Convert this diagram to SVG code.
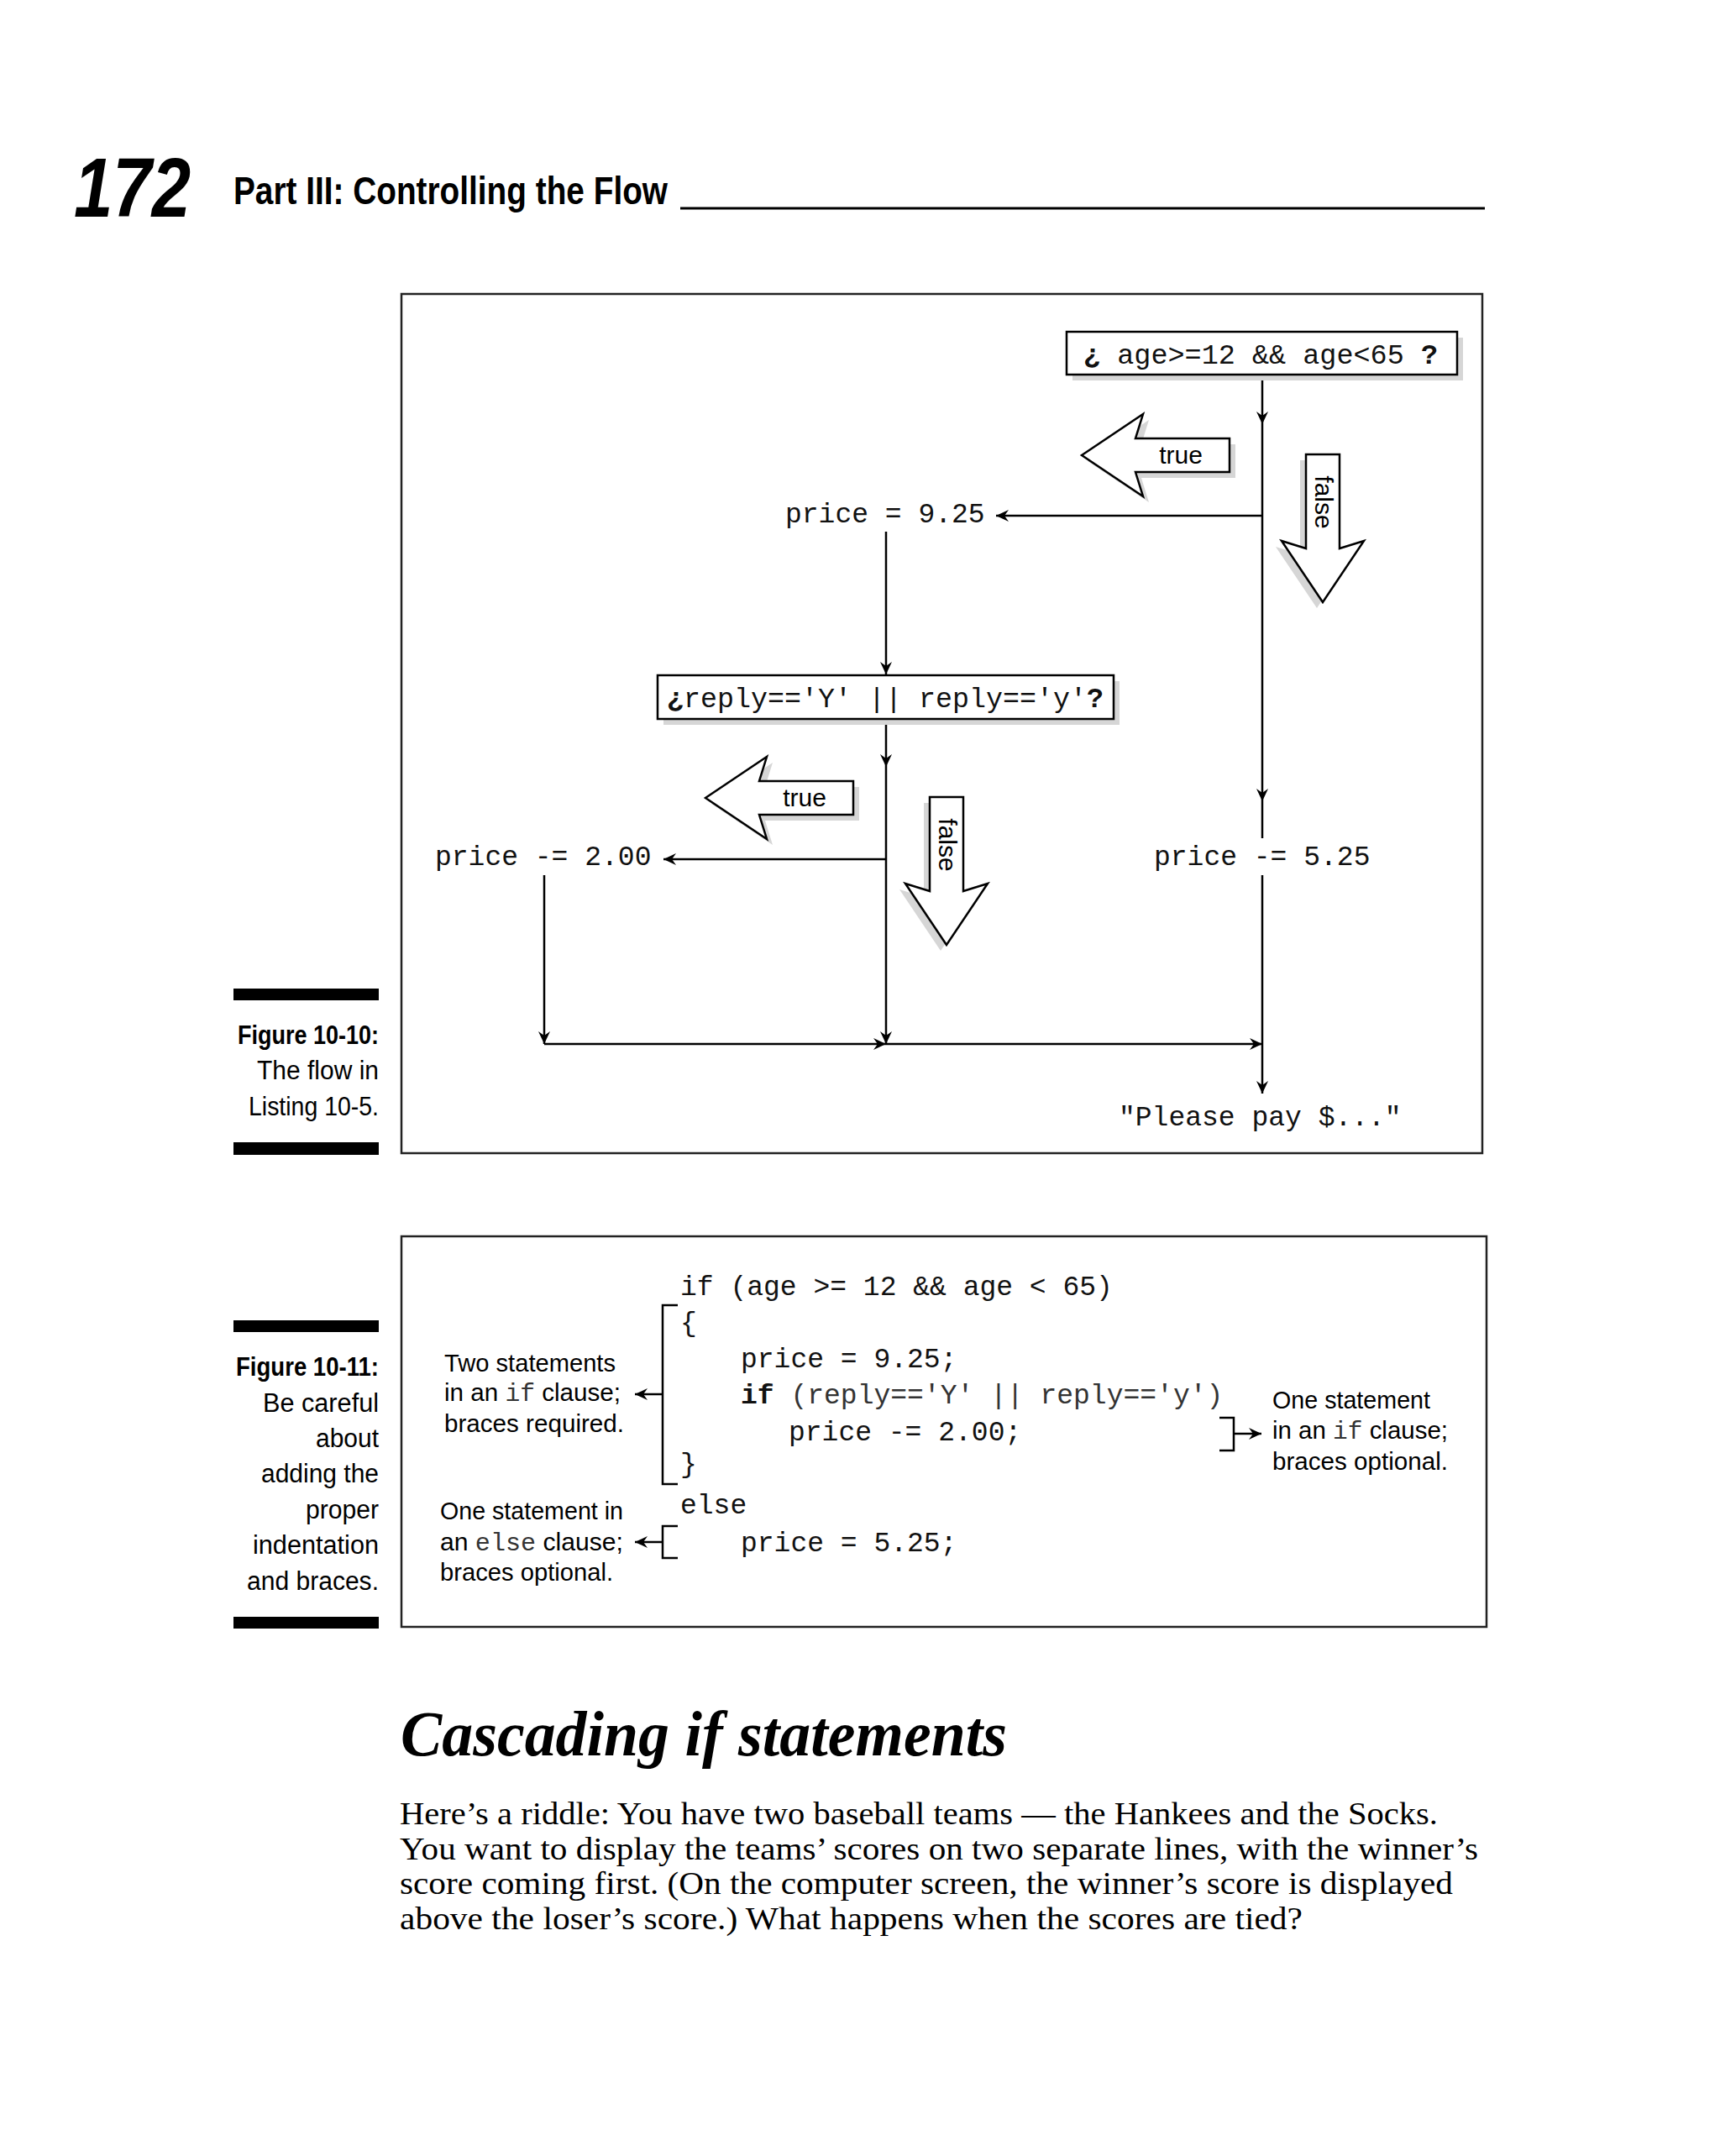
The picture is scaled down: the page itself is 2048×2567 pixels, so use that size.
<svg xmlns="http://www.w3.org/2000/svg" width="2048" height="2567" viewBox="0 0 2048 2567">
<style>
.mono{font-family:"Liberation Mono","DejaVu Sans Mono",monospace;font-size:33px;fill:#111}
.sans{font-family:"Liberation Sans",Arial,sans-serif;fill:#000}
.cap{font-family:"Liberation Sans",Arial,sans-serif;font-size:31px;fill:#000;text-anchor:end}
.ann{font-family:"Liberation Sans",Arial,sans-serif;font-size:30px;fill:#000}
.annm{font-family:"Liberation Mono","DejaVu Sans Mono",monospace;fill:#333}
.body{font-family:"Liberation Serif","Times New Roman",serif;font-size:37px;fill:#000}
.ln{stroke:#000;stroke-width:2.5;fill:none}
.arr{stroke:#000;stroke-width:2.5;fill:none;marker-end:url(#ah)}
.frame{fill:none;stroke:#222;stroke-width:2.5}
.box{fill:#fff;stroke:#000;stroke-width:2.5}
.shadow{fill:#d6d6d6}
.blk{fill:#fff;stroke:#000;stroke-width:2.5;stroke-linejoin:miter}
.bar{fill:#000}
</style>
<defs>
<marker id="ah" markerUnits="userSpaceOnUse" markerWidth="16" markerHeight="16" viewBox="-15 -8 16 16" refX="0" refY="0" orient="auto">
<path d="M0,0 L-15,-7 L-10,0 L-15,7 Z" fill="#000"/>
</marker>
<path id="trueArrow" d="M0,0 L73,-49 L64,-20 L176,-20 L176,20 L64,20 L73,49 Z"/>
<path id="falseArrow" d="M0,0 L-49,-73 L-20,-64 L-20,-176 L20,-176 L20,-64 L49,-73 Z"/>
</defs>
<rect width="2048" height="2567" fill="#fff"/>

<!-- page header -->
<g id="header">
<text x="88" y="258" class="sans" font-size="100" font-weight="bold" font-style="italic" textLength="139" lengthAdjust="spacingAndGlyphs">172</text>
<text x="278" y="243" class="sans" font-size="46" font-weight="bold" textLength="517" lengthAdjust="spacingAndGlyphs">Part III: Controlling the Flow</text>
<line x1="810" y1="248" x2="1768" y2="248" stroke="#000" stroke-width="3"/>
</g>

<!-- Figure 10-10 -->
<g id="figure-10-10-caption">
<rect class="bar" x="278" y="1177" width="173" height="14"/>
<text class="cap" x="451" y="1243" font-weight="bold" textLength="168" lengthAdjust="spacingAndGlyphs">Figure 10-10:</text>
<text class="cap" x="451" y="1285" textLength="145" lengthAdjust="spacingAndGlyphs">The flow in</text>
<text class="cap" x="451" y="1328" textLength="155" lengthAdjust="spacingAndGlyphs">Listing 10-5.</text>
<rect class="bar" x="278" y="1360" width="173" height="15"/>
</g>
<rect id="figure-10-10-frame" class="frame" x="478" y="350" width="1287" height="1023"/>

<g id="connectors">
<line class="arr" x1="1503" y1="446" x2="1503" y2="505"/>
<line class="arr" x1="1503" y1="505" x2="1503" y2="954"/>
<line class="ln" x1="1503" y1="954" x2="1503" y2="998"/>
<line class="arr" x1="1503" y1="1042" x2="1503" y2="1302"/>
<line class="arr" x1="1503" y1="614" x2="1186" y2="614"/>
<line class="arr" x1="1055" y1="633" x2="1055" y2="803"/>
<line class="arr" x1="1055" y1="856" x2="1055" y2="913"/>
<line class="arr" x1="1055" y1="913" x2="1055" y2="1243"/>
<line class="arr" x1="1055" y1="1023" x2="790" y2="1023"/>
<line class="arr" x1="648" y1="1042" x2="648" y2="1243"/>
<line class="arr" x1="648" y1="1243" x2="1055" y2="1243"/>
<line class="arr" x1="1055" y1="1243" x2="1503" y2="1243"/>
</g>

<g id="decision-age">
<rect class="shadow" x="1277" y="402" width="465" height="51"/>
<rect class="box" x="1270" y="395" width="465" height="51"/>
<text class="mono" x="1290" y="433" textLength="422" lengthAdjust="spacingAndGlyphs"><tspan font-weight="bold">¿</tspan> age&gt;=12 &amp;&amp; age&lt;65 <tspan font-weight="bold">?</tspan></text>
</g>

<g id="true-arrow-1">
<use href="#trueArrow" class="shadow" transform="translate(1295,549)"/>
<use href="#trueArrow" class="blk" transform="translate(1288,542)"/>
<text class="sans" x="1406" y="552" font-size="30" text-anchor="middle">true</text>
</g>

<g id="false-arrow-1">
<use href="#falseArrow" class="shadow" transform="translate(1568,724)"/>
<use href="#falseArrow" class="blk" transform="translate(1575,717)"/>
<text class="sans" font-size="30" text-anchor="middle" transform="translate(1566,598) rotate(90)">false</text>
</g>

<g id="price-925">
<text class="mono" x="935" y="622">price = 9.25</text>
</g>

<g id="decision-reply">
<rect class="shadow" x="790" y="811" width="543" height="52"/>
<rect class="box" x="783" y="804" width="543" height="52"/>
<text class="mono" x="794" y="842" textLength="520" lengthAdjust="spacingAndGlyphs"><tspan font-weight="bold">¿</tspan>reply=='Y' || reply=='y'<tspan font-weight="bold">?</tspan></text>
</g>

<g id="true-arrow-2">
<use href="#trueArrow" class="shadow" transform="translate(847,957)"/>
<use href="#trueArrow" class="blk" transform="translate(840,950)"/>
<text class="sans" x="958" y="960" font-size="30" text-anchor="middle">true</text>
</g>

<g id="false-arrow-2">
<use href="#falseArrow" class="shadow" transform="translate(1120,1132)"/>
<use href="#falseArrow" class="blk" transform="translate(1127,1125)"/>
<text class="sans" font-size="30" text-anchor="middle" transform="translate(1118,1006) rotate(90)">false</text>
</g>

<g id="price-200">
<text class="mono" x="518" y="1030">price -= 2.00</text>
</g>

<g id="price-525">
<text class="mono" x="1374" y="1030">price -= 5.25</text>
</g>

<g id="please-pay">
<text class="mono" x="1332" y="1340">"Please pay $..."</text>
</g>

<!-- Figure 10-11 -->
<g id="figure-10-11-caption">
<rect class="bar" x="278" y="1572" width="173" height="14"/>
<text class="cap" x="451" y="1638" font-weight="bold" textLength="170" lengthAdjust="spacingAndGlyphs">Figure 10-11:</text>
<text class="cap" x="451" y="1681" textLength="138" lengthAdjust="spacingAndGlyphs">Be careful</text>
<text class="cap" x="451" y="1723" textLength="75" lengthAdjust="spacingAndGlyphs">about</text>
<text class="cap" x="451" y="1765" textLength="140" lengthAdjust="spacingAndGlyphs">adding the</text>
<text class="cap" x="451" y="1808" textLength="87" lengthAdjust="spacingAndGlyphs">proper</text>
<text class="cap" x="451" y="1850" textLength="150" lengthAdjust="spacingAndGlyphs">indentation</text>
<text class="cap" x="451" y="1893" textLength="157" lengthAdjust="spacingAndGlyphs">and braces.</text>
<rect class="bar" x="278" y="1925" width="173" height="14"/>
</g>
<rect id="figure-10-11-frame" class="frame" x="478" y="1472" width="1292" height="465"/>

<g id="code">
<text class="mono" x="810" y="1542">if (age &gt;= 12 &amp;&amp; age &lt; 65)</text>
<text class="mono" x="810" y="1585">{</text>
<text class="mono" x="882" y="1628" fill="#333">price = 9.25;</text>
<text class="mono" x="882" y="1671"><tspan font-weight="bold">if</tspan><tspan fill="#333"> (reply=='Y' || reply=='y')</tspan></text>
<text class="mono" x="939" y="1715" fill="#333">price -= 2.00;</text>
<text class="mono" x="810" y="1753">}</text>
<text class="mono" x="810" y="1802">else</text>
<text class="mono" x="882" y="1847" fill="#333">price = 5.25;</text>
</g>

<g id="brackets">
<path class="ln" d="M807,1554 H789 V1767 H807"/>
<line class="arr" x1="789" y1="1660" x2="756" y2="1660"/>
<path class="ln" d="M807,1817 H789 V1855 H807"/>
<line class="arr" x1="789" y1="1836" x2="756" y2="1836"/>
<path class="ln" d="M1452,1688 H1469 V1727 H1452"/>
<line class="arr" x1="1469" y1="1707" x2="1502" y2="1707"/>
</g>

<g id="note-if-two">
<text class="ann" x="529" y="1633" textLength="204" lengthAdjust="spacingAndGlyphs">Two statements</text>
<text class="ann" x="529" y="1668" textLength="210" lengthAdjust="spacingAndGlyphs">in an <tspan class="annm">if</tspan> clause;</text>
<text class="ann" x="529" y="1705" textLength="214" lengthAdjust="spacingAndGlyphs">braces required.</text>
</g>

<g id="note-else">
<text class="ann" x="524" y="1809" textLength="218" lengthAdjust="spacingAndGlyphs">One statement in</text>
<text class="ann" x="524" y="1846" textLength="218" lengthAdjust="spacingAndGlyphs">an <tspan class="annm">else</tspan> clause;</text>
<text class="ann" x="524" y="1882" textLength="206" lengthAdjust="spacingAndGlyphs">braces optional.</text>
</g>

<g id="note-if-one">
<text class="ann" x="1515" y="1677" textLength="188" lengthAdjust="spacingAndGlyphs">One statement</text>
<text class="ann" x="1515" y="1713" textLength="209" lengthAdjust="spacingAndGlyphs">in an <tspan class="annm">if</tspan> clause;</text>
<text class="ann" x="1515" y="1750" textLength="209" lengthAdjust="spacingAndGlyphs">braces optional.</text>
</g>

<!-- body -->
<g id="section">
<text x="477" y="2090" font-family="'Liberation Serif','Times New Roman',serif" font-size="76" font-weight="bold" font-style="italic" textLength="722" lengthAdjust="spacingAndGlyphs">Cascading if statements</text>
<text class="body" x="476" y="2172" textLength="1236" lengthAdjust="spacingAndGlyphs">Here’s a riddle: You have two baseball teams — the Hankees and the Socks.</text>
<text class="body" x="476" y="2214" textLength="1284" lengthAdjust="spacingAndGlyphs">You want to display the teams’ scores on two separate lines, with the winner’s</text>
<text class="body" x="476" y="2255" textLength="1254" lengthAdjust="spacingAndGlyphs">score coming first. (On the computer screen, the winner’s score is displayed</text>
<text class="body" x="476" y="2297" textLength="1075" lengthAdjust="spacingAndGlyphs">above the loser’s score.) What happens when the scores are tied?</text>
</g>
</svg>
